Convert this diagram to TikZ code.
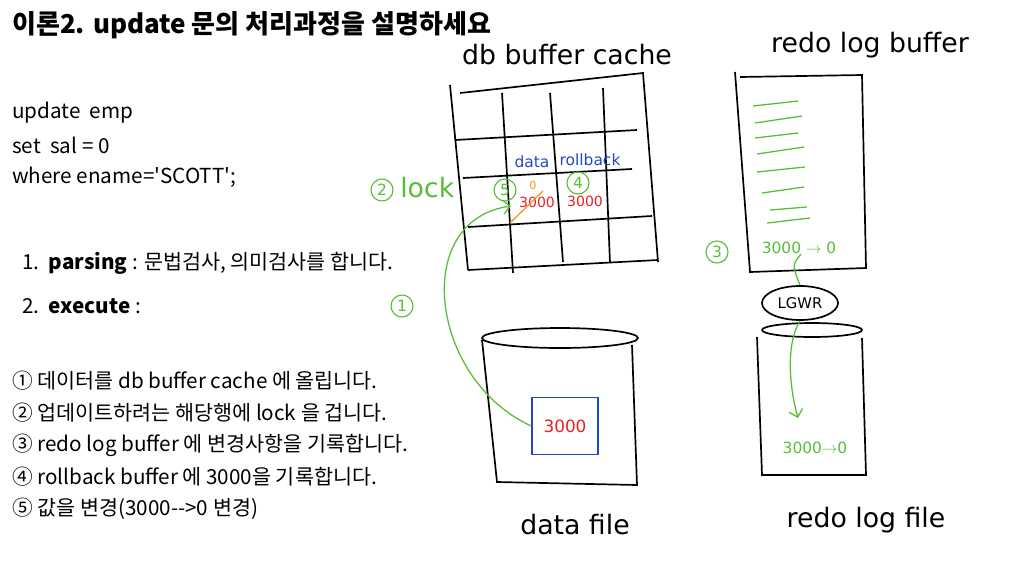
\documentclass[tikz,border=0pt]{standalone}
\usepackage{fontspec}
\setmainfont{Noto Sans CJK KR}
\newfontfamily\hand{DejaVu Sans}
\usetikzlibrary{positioning,arrows.meta,shapes.geometric}
\definecolor{pengreen}{RGB}{86,190,52}
\definecolor{penred}{RGB}{232,32,32}
\definecolor{penblue}{RGB}{36,70,196}
\definecolor{penorange}{RGB}{240,150,30}

\begin{document}
\begin{tikzpicture}[x=0.025cm,y=-0.025cm,
  ink/.style={line width=1.2pt,black},
  pen/.style={line width=0.9pt,pengreen},
  bodytext/.style={anchor=west,inner sep=0pt,font=\fontsize{14.7}{17}\selectfont},
  titletext/.style={anchor=west,inner sep=0pt,font=\fontsize{18.5}{21}\selectfont\bfseries},
  handtext/.style={inner sep=0pt,font=\hand\fontsize{19}{22}\selectfont},
  handsmall/.style={inner sep=0pt,font=\hand\fontsize{11}{12}\selectfont},
  gnum/.style={circle,draw=pengreen,line width=0.8pt,text=pengreen,inner sep=0pt,
    minimum size=0.55cm,font=\hand\fontsize{11}{12}\selectfont}]
\useasboundingbox (0,0) rectangle (1024,574);

% text on the left
\node[titletext] (title) at (12,25) {이론2. update 문의 처리과정을 설명하세요};
\node[bodytext] (sqlA) at (12,113) {update\ \ emp};
\node[bodytext] (sqlB) at (12,145) {set\ \ sal = 0};
\node[bodytext] (sqlC) at (12,177) {where ename=\textquotesingle SCOTT\textquotesingle;};
\node[bodytext] (parse) at (22,263) {1.\ \ \textbf{parsing} : 문법검사, 의미검사를 합니다.};
\node[bodytext] (exec) at (22,306) {2.\ \ \textbf{execute} :};
\node[bodytext] (stepA) at (12,381) {① 데이터를 db buffer cache 에 올립니다.};
\node[bodytext] (stepB) at (12,413) {② 업데이트하려는 해당행에 lock 을 겁니다.};
\node[bodytext] (stepC) at (12,445) {③ redo log buffer 에 변경사항을 기록합니다.};
\node[bodytext] (stepD) at (12,477) {④ rollback buffer 에 3000을 기록합니다.};
\node[bodytext] (stepE) at (12,509) {⑤ 값을 변경(3000-{}->0 변경)};

% db buffer cache
\node[handtext] (dbcLabel) at (567,55) {db buffer cache};
\draw[ink] (450,85) -- (468,270);
\draw[ink] (460,93) -- (643,73) -- (658,262);
\draw[ink] (468,270) -- (658,260);
\draw[ink] (455,140) -- (637,130);
\draw[ink] (463,178) -- (632,169);
\draw[ink] (468,227) -- (652,216);
\draw[ink] (502,93) -- (513,273);
\draw[ink] (550,93) -- (563,262);
\draw[ink] (603,88) -- (610,263);
\node[handsmall,penblue] (dataCell) at (532,162) {data};
\node[handsmall,penblue] (rbCell) at (590,160) {rollback};
\node[handsmall,penorange,font=\hand\fontsize{8}{9}\selectfont] (newval) at (533,185) {0};
\node[handsmall,penred,font=\hand\fontsize{10}{11}\selectfont] (oldval) at (537,202) {3000};
\node[handsmall,penred,font=\hand\fontsize{10}{11}\selectfont] (undoval) at (585,201) {3000};
\draw[line width=0.9pt,penorange] (510,223) -- (543,191);
\node[gnum] (numE) at (505,190) {5};
\node[gnum] (numD) at (578,183) {4};
\coordinate (rowhit) at (511,206);

% lock
\node[gnum] (numB) at (382,190) {2};
\node[handtext,pengreen,anchor=west] (lockLabel) at (400,188) {lock};
\node[gnum] (numA) at (402,306) {1};

% data file
\draw[ink] (560,338) ellipse (78 and 10);
\draw[ink] (482,340) -- (497,482) -- (637,485) -- (632,345);
\node[draw=penblue,line width=1pt,text=penred,minimum width=1.65cm,minimum height=1.43cm,
  font=\hand\fontsize{12}{13}\selectfont] (dfval) at (565,426) {3000};
\node[handtext] (dfLabel) at (575,525) {data file};
\draw[pen,-{Straight Barb[length=5pt]}] (dfval.west) .. controls (430,380) and (410,220) .. (rowhit);

% redo log buffer
\node[handtext] (rlbLabel) at (870,45) {redo log buffer};
\draw[ink] (735,72) -- (750,272) -- (866,268) -- (862,75) -- (740,77);
\foreach \ya/\xa/\yb/\xb in {106/753/101/798, 123/755/116/802, 138/755/133/798, 154/757/147/804,
  172/757/167/805, 193/762/187/804, 210/770/207/807, 223/767/218/810}
  \draw[pen] (\xa,\ya) -- (\xb,\yb);
\node[handsmall,pengreen] (rlbval) at (799,248) {3000 $\rightarrow$ 0};
\node[gnum] (numC) at (717,252) {3};

% LGWR
\node[ellipse,draw,ink,minimum width=1.9cm,minimum height=0.85cm,inner sep=0pt,
  font=\hand\fontsize{10.5}{12}\selectfont] (lgwr) at (800,303) {LGWR};
\draw[pen] (rlbval.south) ++(2,0) .. controls (792,265) .. (lgwr.north);

% redo log file
\draw[ink] (812,330) ellipse (50 and 7);
\draw[ink] (757,337) -- (762,475) -- (866,475) -- (862,338);
\node[handsmall,pengreen] (rlfval) at (815,448) {3000$\rightarrow$0};
\coordinate (rlfhit) at (798,418);
\draw[pen,-{Straight Barb[length=5pt]}] (lgwr.south) .. controls (785,345) and (790,390) .. (rlfhit);
\node[handtext] (rlfLabel) at (866,520) {redo log file};
\end{tikzpicture}
\end{document}
